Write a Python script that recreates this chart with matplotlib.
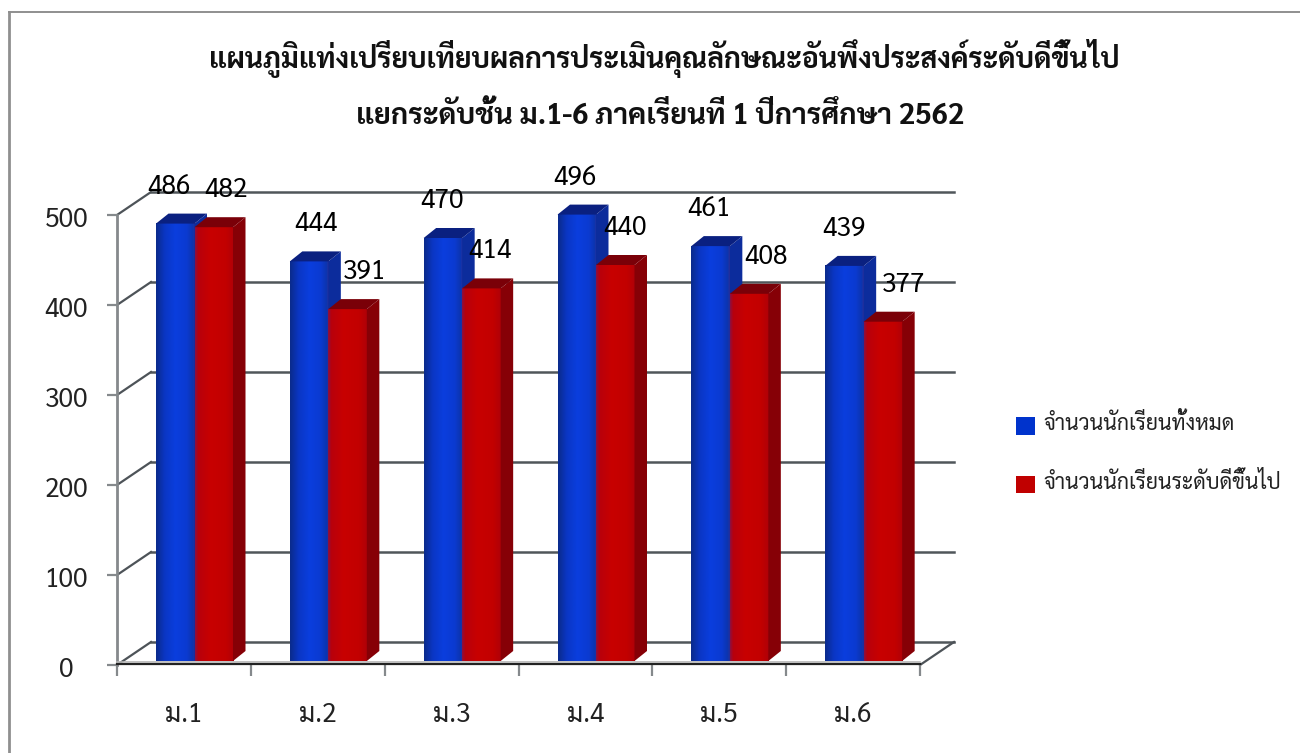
import matplotlib
matplotlib.use('Agg')
import matplotlib.pyplot as plt
import numpy as np
from matplotlib.colors import LinearSegmentedColormap
from matplotlib.patches import Polygon, Rectangle
from matplotlib.transforms import ScaledTranslation

categories = ['ม.1', 'ม.2', 'ม.3', 'ม.4', 'ม.5', 'ม.6']
total_students = [486, 444, 470, 496, 461, 439]
good_students = [482, 391, 414, 440, 408, 377]
y_ticks = [0, 100, 200, 300, 400, 500]
legend_labels = ['จำนวนนักเรียนทั้งหมด', 'จำนวนนักเรียนระดับดีขึ้นไป']
title_lines = ['แผนภูมิแท่งเปรียบเทียบผลการประเมินคุณลักษณะอันพึงประสงค์ระดับดีขึ้นไป',
               'แยกระดับชั้น ม.1-6 ภาคเรียนที่ 1 ปีการศึกษา 2562']

plt.rcParams['font.family'] = ['Sarabun', 'DejaVu Sans']

W, H = 1300, 753
fig = plt.figure(figsize=(W / 100, H / 100), dpi=100)

# border of the picture: only top and left are there
fig.add_artist(plt.Line2D([9 / W, 9 / W], [0, 1 - 12 / H], transform=fig.transFigure,
                          color='#8f8f8f', linewidth=2))
fig.add_artist(plt.Line2D([9 / W, 1], [1 - 12 / H, 1 - 12 / H], transform=fig.transFigure,
                          color='#8f8f8f', linewidth=1.4))

ax = fig.add_axes([117 / W, 1 - 665 / H, 803 / W, 450 / H])
ax.set_xlim(0, 6)
ax.set_ylim(0, 500)
for s in ax.spines.values():
    s.set_visible(False)

# pixel sizes in data units
px = 6 / 803
py = 500 / 450

# back wall and depth lines
wall_dx = 34 * px
wall_dy = 23 * py
for v in y_ticks:
    ax.plot([0, wall_dx], [v, v + wall_dy], color='#4d5358', lw=1.6, clip_on=False, zorder=1)
    ax.plot([wall_dx, 6 + wall_dx], [v + wall_dy, v + wall_dy], color='#50565a', lw=1.8, clip_on=False, zorder=1)
ax.plot([6, 6 + wall_dx], [0, wall_dy], color='#4d5358', lw=1.6, clip_on=False, zorder=1)

# front axis lines
ax.plot([0, 0], [0, 500], color='#85898c', lw=2, clip_on=False, zorder=2)
ax.plot([0, 6], [0.6, 0.6], color='#222222', lw=1.6, clip_on=False, zorder=2)
ax.plot([0, 6], [3, 3], color='#b5b5b5', lw=1.2, clip_on=False, zorder=2)

# bars
bar_w = 38.5 * px
depth_x = 12.5 * px
depth_y = 10 * py
shift_y = 4 * py
blue_left = 39 * px

blue_cmap = LinearSegmentedColormap.from_list('b', [(0, '#0a2b8c'), (0.22, '#0a36c4'), (0.5, '#0a3ede'),
                                                    (0.8, '#0b3ad0'), (0.95, '#0c34ae'), (1, '#2a2f9a')])
red_cmap = LinearSegmentedColormap.from_list('r', [(0, '#8c1040'), (0.08, '#b8000c'), (0.4, '#c80000'),
                                                   (0.8, '#c20000'), (1, '#b00008')])
grad = np.linspace(0, 1, 64).reshape(1, -1)


def draw_bar(left, value, cmap, top_col, side_col, z):
    ax.bar(left, value, width=bar_w, bottom=shift_y, align='edge', color='none',
           linewidth=0, zorder=z, clip_on=False)
    im = ax.imshow(grad, extent=(left, left + bar_w, shift_y, shift_y + value), cmap=cmap,
                   aspect='auto', zorder=z, interpolation='bilinear')
    im.set_clip_on(False)
    right = left + bar_w
    top = shift_y + value
    ax.add_patch(Polygon([(right, shift_y), (right + depth_x, shift_y + depth_y),
                          (right + depth_x, top + depth_y), (right, top)],
                         closed=True, facecolor=side_col, edgecolor='none', zorder=z, clip_on=False))
    ax.add_patch(Polygon([(left, top), (left + depth_x, top + depth_y),
                          (right + depth_x, top + depth_y), (right, top)],
                         closed=True, facecolor=top_col, edgecolor='none', zorder=z, clip_on=False))


blue_dx = [-12, 2, -6, -7, -7, -6]
red_dx = [7, 12, 3, 5, 12, 15]

for i in range(len(categories)):
    left = i + blue_left
    draw_bar(left, total_students[i], blue_cmap, '#0a2080', '#0c2c9c', 3 + 2 * i)
    draw_bar(left + bar_w, good_students[i], red_cmap, '#7a0008', '#860006', 4 + 2 * i)
    ax.annotate(str(total_students[i]), (left + bar_w / 2 + depth_x / 2 - 1 * px, shift_y + total_students[i] + depth_y),
                xytext=(blue_dx[i], 27), textcoords='offset pixels', ha='center', va='center',
                fontsize=19, color='black', annotation_clip=False, zorder=40)
    ax.annotate(str(good_students[i]), (left + bar_w * 1.5 + depth_x / 2 - 1 * px, shift_y + good_students[i] + depth_y),
                xytext=(red_dx[i], 27), textcoords='offset pixels', ha='center', va='center',
                fontsize=19, color='black', annotation_clip=False, zorder=40)

ax.set_xlim(0, 6)
ax.set_ylim(0, 500)

# ticks
ax.set_xticks(range(7))
ax.set_xticklabels([])
ax.set_xticks(np.arange(0.5, 6.5, 1), labels=categories, minor=True)
ax.tick_params(axis='x', which='major', length=8, width=1.6, color='#85898c')
ax.tick_params(axis='x', which='minor', length=0, pad=26, labelsize=19, labelcolor='#222222')
ax.set_yticks(y_ticks)
ax.tick_params(axis='y', length=7.5, width=1.6, color='#85898c', pad=29, labelsize=19, labelcolor='#222222')
label_down = ScaledTranslation(0, -2 / 100, fig.dpi_scale_trans)
for t in ax.get_yticklabels():
    t.set_ha('center')
    t.set_transform(t.get_transform() + label_down)

# legend
leg = ax.legend(handles=[Rectangle((0, 0), 1, 1, facecolor='#0033cc'), Rectangle((0, 0), 1, 1, facecolor='#c00000')],
                labels=legend_labels, loc='upper left', bbox_to_anchor=(997 / W, 1 - 397 / H),
                bbox_transform=fig.transFigure, frameon=False, fontsize=15.3, handlelength=0.9, handleheight=0.9,
                labelspacing=1.73, handletextpad=0.38, labelcolor='#222222')
for t in leg.get_texts():
    t.set_y(3)

# title
fig.text(664 / W, 1 - 59 / H, title_lines[0], ha='center', va='center', fontsize=20.4, fontweight='bold', color='#111111')
fig.text(660 / W, 1 - 116 / H, title_lines[1], ha='center', va='center', fontsize=20.8, fontweight='bold', color='#111111')

fig.savefig('out.png', dpi=100)
